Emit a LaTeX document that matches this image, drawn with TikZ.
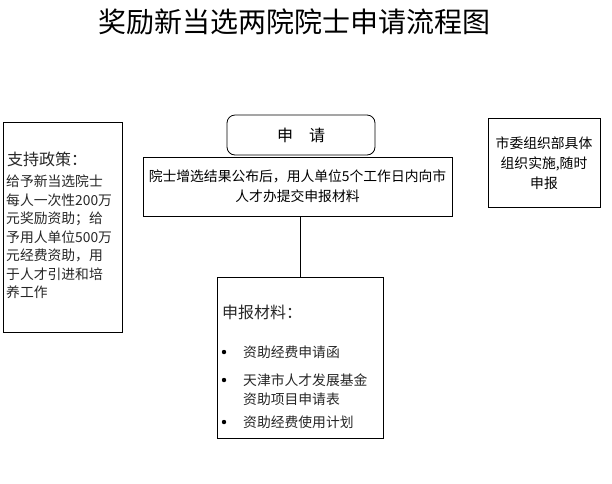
\documentclass[tikz,border=0pt]{standalone}
\usepackage{fontspec}
\setmainfont{Noto Sans CJK SC}
\begin{document}
\begin{tikzpicture}[x=1pt,y=-1pt,
  box/.style={draw=black,line width=0.8pt,inner sep=0pt},
  txt/.style={inner sep=0pt,text=black!85},
  body/.style={txt,font=\fontsize{13.8}{18.5}\selectfont},
  head/.style={txt,font=\fontsize{16}{18}\selectfont}]
\useasboundingbox (0,0) rectangle (612,483);
% title
\node[txt,text=black,font=\fontsize{28}{30}\selectfont] (title) at (294,22) {奖励新当选两院院士申请流程图};
% left box
\node[box,minimum width=119pt,minimum height=210pt] (left) at (62.5,227.5) {};
\node[head,anchor=west] (lhead) at (7,159) {支持政策：};
\node[body,anchor=north west,align=left] (lbody) at (6,175) {给予新当选院士\\每人一次性200万\\元奖励资助；给\\予用人单位500万\\元经费资助，用\\于人才引进和培\\养工作};
% application
\node[box,rounded corners=8pt,minimum width=148pt,minimum height=40pt,font=\fontsize{16}{18}\selectfont] (apply) at (301,135) {申\hspace{1em}请};
\node[box,minimum width=309pt,minimum height=59pt,align=center,font=\fontsize{13.8}{20}\selectfont] (req) at (297.5,186.5) {院士增选结果公布后，用人单位5个工作日内向市\\人才办提交申报材料};
% right box
\node[box,minimum width=112pt,minimum height=89pt,align=center,font=\fontsize{13.8}{20}\selectfont] (right) at (544,163) {市委组织部具体\\组织实施,随时\\申报};
% materials
\node[box,minimum width=166pt,minimum height=161pt] (mat) at (300,357.5) {};
\node[head,anchor=west] (mhead) at (222,312) {申报材料：};
\node[body,anchor=west] (m1) at (243,352) {资助经费申请函};
\node[body,anchor=west] (m2) at (243,380) {天津市人才发展基金};
\node[body,anchor=west] (m2b) at (243,399) {资助项目申请表};
\node[body,anchor=west] (m3) at (243,422) {资助经费使用计划};
\foreach \yy in {352,380,422} \fill (224,\yy) circle (2.2pt);
% connector
\draw[line width=0.8pt] (mat.north) -- (mat.north |- req.south);
\end{tikzpicture}
\end{document}
